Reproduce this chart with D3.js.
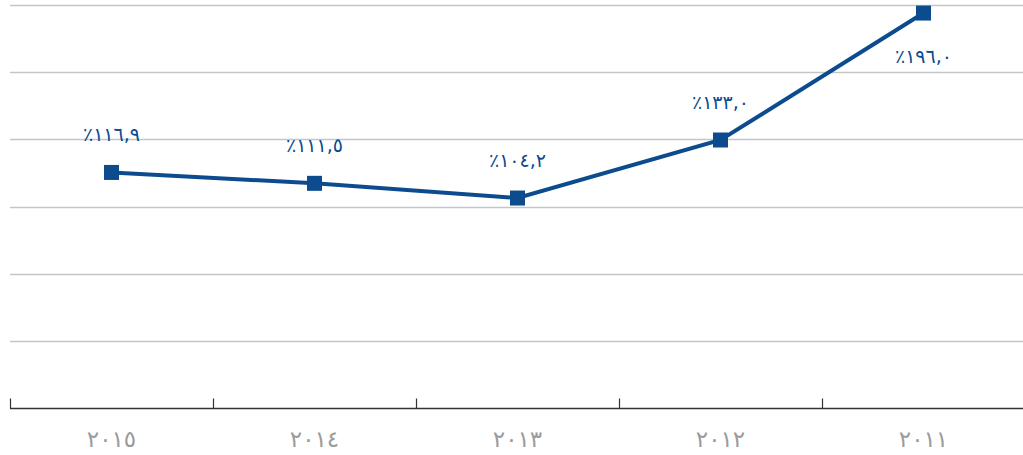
<!DOCTYPE html>
<html>
<head>
<meta charset="utf-8">
<script src="https://cdn.jsdelivr.net/npm/d3@7"></script>
<style>
  html, body { margin: 0; padding: 0; background: #ffffff; }
  svg { display: block; }
</style>
</head>
<body>
<svg id="chart" width="1023" height="455"></svg>
<script>
const categories = ["٢٠١٥", "٢٠١٤", "٢٠١٣", "٢٠١٢", "٢٠١١"];
const values = [116.9, 111.5, 104.2, 133.0, 196.0];
const valueLabels = ["٪١١٦,٩", "٪١١١,٥", "٪١٠٤,٢", "٪١٣٣,٠", "٪١٩٦,٠"];
const labelBelow = [false, false, false, false, true];
const yTicks = [0, 33.333, 66.667, 100, 133.333, 166.667, 200];

const svg = d3.select("#chart");
const W = 1023, H = 455;
const plotLeft = 10, plotRight = 1025, plotTop = 5, plotBottom = 408;

const x = d3.scaleBand().domain(categories).range([plotLeft, plotRight]).padding(0);
const y = d3.scaleLinear().domain([0, 200]).range([plotBottom, plotTop]);

const lineColor = "#0b4b8e";

// gridlines
svg.append("g")
  .selectAll("line")
  .data(yTicks.slice(1))
  .join("line")
  .attr("x1", plotLeft)
  .attr("x2", W)
  .attr("y1", d => Math.round(y(d)) + 0.5)
  .attr("y2", d => Math.round(y(d)) + 0.5)
  .attr("stroke", "#c3c6c9")
  .attr("stroke-width", 1.5);

// x axis
const xAxisG = svg.append("g")
  .attr("transform", `translate(0,${Math.round(y(0)) + 0.5})`);
xAxisG.append("line")
  .attr("x1", plotLeft).attr("x2", W)
  .attr("stroke", "#333").attr("stroke-width", 1.5);
xAxisG.selectAll("line.tick")
  .data(categories)
  .join("line")
  .attr("class", "tick")
  .attr("x1", d => Math.round(x(d)) + 0.5)
  .attr("x2", d => Math.round(x(d)) + 0.5)
  .attr("y1", 0).attr("y2", -10)
  .attr("stroke", "#333").attr("stroke-width", 1.2);
xAxisG.selectAll("text")
  .data(categories)
  .join("text")
  .attr("x", d => x(d) + x.bandwidth() / 2)
  .attr("y", 38)
  .attr("text-anchor", "middle")
  .attr("direction", "ltr")
  .style("unicode-bidi", "bidi-override")
  .attr("font-family", "DejaVu Sans, sans-serif")
  .attr("font-size", 23)
  .attr("fill", "#9b9b9b")
  .text(d => d);

const data = categories.map((c, i) => ({ c, v: values[i], label: valueLabels[i], below: labelBelow[i] }));

const line = d3.line()
  .x(d => x(d.c) + x.bandwidth() / 2)
  .y(d => y(d.v));

svg.append("path")
  .datum(data)
  .attr("d", line)
  .attr("fill", "none")
  .attr("stroke", lineColor)
  .attr("stroke-width", 4);

const ms = 15;
svg.append("g")
  .selectAll("rect")
  .data(data)
  .join("rect")
  .attr("x", d => x(d.c) + x.bandwidth() / 2 - ms / 2)
  .attr("y", d => y(d.v) - ms / 2)
  .attr("width", ms)
  .attr("height", ms)
  .attr("fill", lineColor);

svg.append("g")
  .selectAll("text")
  .data(data)
  .join("text")
  .attr("x", d => x(d.c) + x.bandwidth() / 2)
  .attr("y", d => d.below ? y(d.v) + 50 : y(d.v) - 31)
  .attr("text-anchor", "middle")
  .attr("direction", "ltr")
  .style("unicode-bidi", "bidi-override")
  .attr("font-family", "DejaVu Sans, sans-serif")
  .attr("font-size", 19)
  .attr("fill", lineColor)
  .text(d => d.label);
</script>
</body>
</html>
